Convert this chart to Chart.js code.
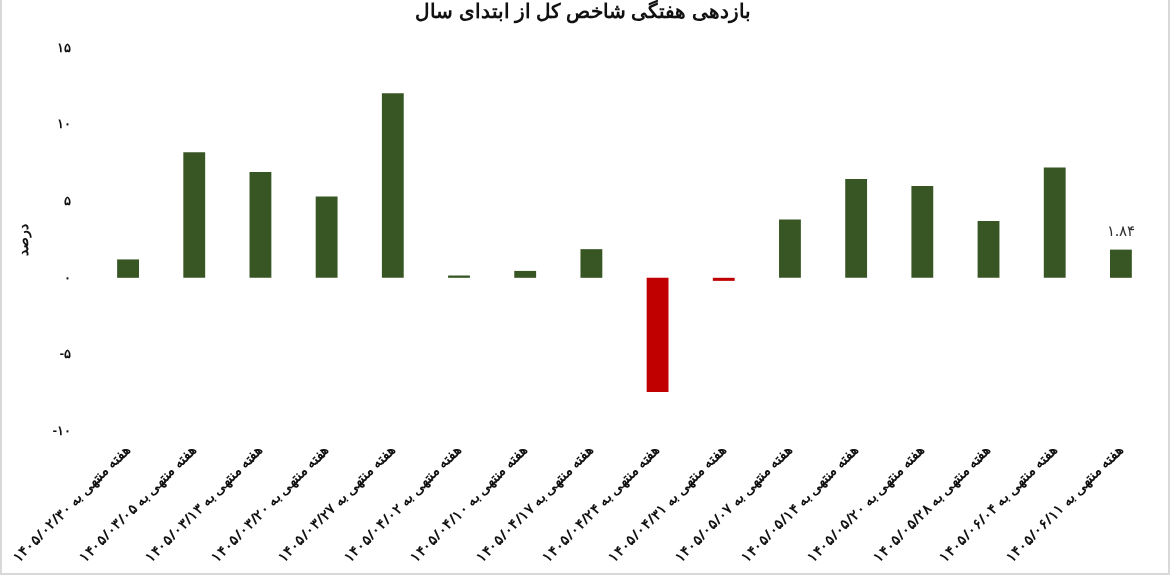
<!DOCTYPE html><html><head><meta charset="utf-8">
<script src="https://cdn.jsdelivr.net/npm/chart.js@4"></script>
<style>html,body{margin:0;background:#fff}#w{position:absolute;left:0;top:0;width:1166px;height:573px;border:2px solid #d9d9d9;border-top:none}</style></head><body>
<div id="w"><canvas id="c"></canvas></div>
<script>
const dates=["۱۴۰۵/۰۲/۳۰","۱۴۰۵/۰۳/۰۵","۱۴۰۵/۰۳/۱۳","۱۴۰۵/۰۳/۲۰","۱۴۰۵/۰۳/۲۷","۱۴۰۵/۰۴/۰۲","۱۴۰۵/۰۴/۱۰","۱۴۰۵/۰۴/۱۷","۱۴۰۵/۰۴/۲۴","۱۴۰۵/۰۴/۳۱","۱۴۰۵/۰۵/۰۷","۱۴۰۵/۰۵/۱۴","۱۴۰۵/۰۵/۲۰","۱۴۰۵/۰۵/۲۸","۱۴۰۵/۰۶/۰۴","۱۴۰۵/۰۶/۱۱"];
const values=[1.2,8.2,6.9,5.3,12.05,0.15,0.45,1.87,-7.45,-0.2,3.8,6.45,6.0,3.7,7.2,1.84];
const yTicks=[15,10,5,0,-5,-10];
const fa=n=>String(n).replace(/\d/g,d=>"۰۱۲۳۴۵۶۷۸۹"[d]);
const lastLabel={id:'ll',afterDatasetsDraw(ch){const m=ch.getDatasetMeta(0).data;const i=values.length-1;const b=m[i];const x=ch.ctx;x.save();x.font='15px "Noto Sans"';x.fillStyle='#333';x.textAlign='center';x.fillText(fa(values[i]),b.x,b.y-14);x.restore();}};
new Chart(document.getElementById('c'),{type:'bar',data:{labels:dates.map(d=>"هفته منتهی به "+d),datasets:[{data:values,backgroundColor:values.map(v=>v<0?'#c00000':'#375623'),barPercentage:0.33,categoryPercentage:1}]},
options:{responsive:true,maintainAspectRatio:false,animation:false,layout:{padding:{left:10,right:14,top:0,bottom:4}},
plugins:{legend:{display:false},tooltip:{enabled:false},title:{display:true,text:'بازدهی هفتگی شاخص کل از ابتدای سال',font:{family:'"Noto Sans"',size:20,weight:'bold'},color:'#111',padding:{top:0,bottom:24}}},
scales:{x:{grid:{display:false},border:{display:false},ticks:{color:'#111',font:{family:'"Noto Sans"',size:14,weight:'bold'},minRotation:45,maxRotation:45,autoSkip:false}},
y:{min:-10,max:15,afterBuildTicks(s){s.ticks=yTicks.map(v=>({value:v}));},grid:{display:false},border:{display:false},title:{display:true,text:'درصد',font:{family:'"Noto Sans"',size:14,weight:'bold'},color:'#111'},ticks:{color:'#111',padding:16,font:{family:'"Noto Sans"',size:13,weight:'bold'},callback:v=>v<0?'-'+fa(-v):fa(v)}}}},plugins:[lastLabel]});
</script></body></html>
